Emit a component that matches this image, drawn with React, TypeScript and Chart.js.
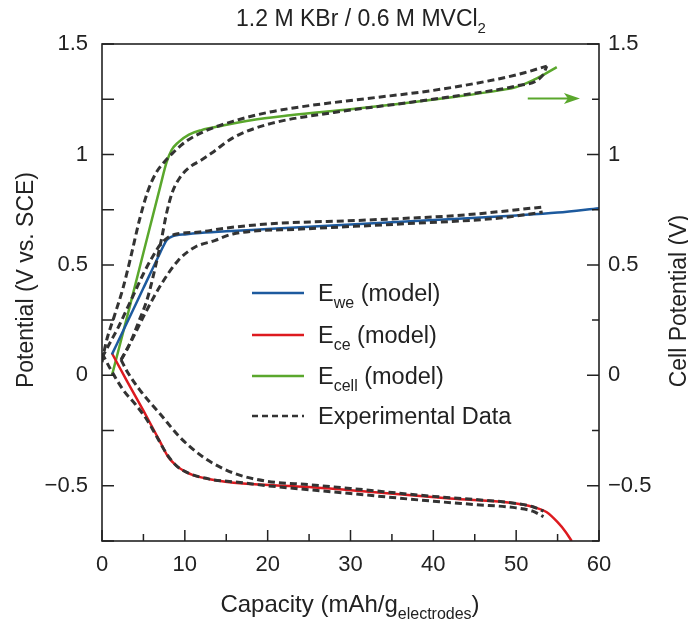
import React, { useEffect, useRef } from "react";
import { Chart, registerables } from "chart.js";

Chart.register(...registerables);

// ---------- data ----------
const xTicks = [0, 10, 20, 30, 40, 50, 60];
const yTicks = [-0.5, 0, 0.5, 1, 1.5];
const yTickLabels = ["\u22120.5", "0", "0.5", "1", "1.5"];

// model: working electrode
const weX = [1.2, 3, 5, 7, 7.8, 8.3, 9, 10, 11.8, 15, 20, 30, 40, 50, 55, 60];
const weY = [0.095, 0.237, 0.395, 0.553, 0.612, 0.626, 0.634, 0.638, 0.644, 0.652, 0.662, 0.683, 0.703, 0.724, 0.737, 0.757];

// model: counter electrode
const ceX = [1.2, 3, 5, 7, 8, 9, 10, 11, 13, 17, 25, 30, 42, 50, 52, 53.7, 55, 56, 56.7];
const ceY = [0.1, -0.025, -0.16, -0.3, -0.37, -0.41, -0.435, -0.452, -0.47, -0.49, -0.505, -0.52, -0.558, -0.58, -0.595, -0.62, -0.665, -0.71, -0.75];

// model: cell
const cellX = [1.2, 3, 5, 7, 7.8, 8.4, 9.2, 10.5, 12, 14.5, 18, 22.7, 30, 36, 42, 48, 50, 52, 53.5, 54.9];
const cellY = [0.0, 0.26, 0.555, 0.85, 0.965, 1.02, 1.055, 1.09, 1.11, 1.13, 1.155, 1.177, 1.205, 1.23, 1.258, 1.29, 1.305, 1.335, 1.365, 1.395];

// experimental: cell (two branches)
const expCellAX = [0, 0.5, 1.5, 2.5, 3.5, 4.5, 5.5, 6.5, 7.5, 8.5, 9.5, 10.5, 12.4, 15.8, 20, 23.9, 32, 40, 48, 51, 53.7];
const expCellAY = [0.06, 0.15, 0.27, 0.39, 0.54, 0.7, 0.83, 0.915, 0.965, 1.005, 1.04, 1.068, 1.105, 1.15, 1.19, 1.215, 1.253, 1.29, 1.343, 1.37, 1.4];
const expCellBX = [2.3, 3.2, 4.4, 5.5, 6.5, 7.2, 7.8, 8.5, 9.4, 10.5, 12, 13.2, 15.8, 19.9, 28, 36, 44, 50, 53.2, 53.7];
const expCellBY = [0.07, 0.13, 0.24, 0.35, 0.5, 0.62, 0.735, 0.83, 0.895, 0.94, 0.975, 1.005, 1.075, 1.135, 1.19, 1.23, 1.272, 1.31, 1.358, 1.4];

// experimental: working electrode
const expWeAX = [0, 1, 2, 3, 4, 5, 6, 7, 8, 9, 11.8, 14.6, 19.9, 32, 44, 53.2];
const expWeAY = [0.08, 0.15, 0.22, 0.3, 0.38, 0.46, 0.53, 0.59, 0.625, 0.64, 0.649, 0.665, 0.685, 0.703, 0.727, 0.762];
const expWeBX = [2.3, 3.6, 5.2, 7.2, 9.2, 11.2, 13.6, 15.8, 24, 36, 48, 53.2];
const expWeBY = [0.07, 0.16, 0.28, 0.415, 0.52, 0.58, 0.61, 0.64, 0.662, 0.685, 0.712, 0.739];

// experimental: counter electrode
const expCeAX = [0, 1, 2.6, 4, 5.4, 6.5, 7.8, 9, 10.6, 13, 16.7, 20, 30, 40, 45, 50, 52, 53.3];
const expCeAY = [0.1, 0.03, -0.068, -0.13, -0.2, -0.27, -0.355, -0.41, -0.445, -0.47, -0.485, -0.5, -0.535, -0.57, -0.585, -0.6, -0.615, -0.64];
const expCeBX = [2.3, 3, 4.6, 7, 9.4, 12.2, 14.5, 16.7, 20, 25, 30, 40, 45, 50, 52, 53.3];
const expCeBY = [0.07, 0.02, -0.068, -0.174, -0.28, -0.37, -0.42, -0.453, -0.48, -0.495, -0.512, -0.548, -0.562, -0.58, -0.595, -0.615];

// arrow pointing to right axis (cell potential)
const arrowX = [51.4, 57.7];
const arrowY = 1.253;

const BLUE = "#1d5a9e";
const RED = "#dd1a1f";
const GREEN = "#5aa72c";
const DASH = "#333333";
const INK = "#222222";
const FONT = '"Liberation Sans", Arial, Helvetica, sans-serif';

type Part = { t: string; sub?: boolean };

const zip = (xs: number[], ys: number[]) => xs.map((x, i) => ({ x, y: ys[i] }));

function richWidth(ctx: CanvasRenderingContext2D, parts: Part[], size: number, subSize: number) {
  let w = 0;
  for (const p of parts) {
    ctx.font = `${p.sub ? subSize : size}px ${FONT}`;
    w += ctx.measureText(p.t).width;
  }
  return w;
}

function drawRich(
  ctx: CanvasRenderingContext2D,
  parts: Part[],
  x: number,
  y: number,
  size: number,
  subSize: number,
  align: "left" | "center"
) {
  const w = richWidth(ctx, parts, size, subSize);
  let cx = align === "center" ? x - w / 2 : x;
  ctx.textBaseline = "alphabetic";
  ctx.textAlign = "left";
  for (const p of parts) {
    ctx.font = `${p.sub ? subSize : size}px ${FONT}`;
    ctx.fillText(p.t, cx, p.sub ? y + size * 0.3 : y);
    cx += ctx.measureText(p.t).width;
  }
}

const decorPlugin = {
  id: "decor",
  afterDatasetsDraw(chart: any) {
    const ctx: CanvasRenderingContext2D = chart.ctx;
    const { left, right, top, bottom } = chart.chartArea;
    const xs = chart.scales.x;
    const ys = chart.scales.y;
    ctx.save();

    // arrow
    const ax0 = xs.getPixelForValue(arrowX[0]);
    const ax1 = xs.getPixelForValue(arrowX[1]);
    const ay = ys.getPixelForValue(arrowY);
    ctx.strokeStyle = GREEN;
    ctx.fillStyle = GREEN;
    ctx.lineWidth = 2;
    ctx.beginPath();
    ctx.moveTo(ax0, ay);
    ctx.lineTo(ax1 - 6, ay);
    ctx.stroke();
    ctx.beginPath();
    ctx.moveTo(ax1, ay);
    ctx.lineTo(ax1 - 16, ay - 5.5);
    ctx.lineTo(ax1 - 12, ay);
    ctx.lineTo(ax1 - 16, ay + 5.5);
    ctx.closePath();
    ctx.fill();

    // frame
    ctx.strokeStyle = INK;
    ctx.lineWidth = 1.6;
    ctx.strokeRect(left, top, right - left, bottom - top);

    // ticks
    ctx.lineWidth = 1.5;
    ctx.beginPath();
    for (let v = 0; v <= 60; v += 5) {
      const px = xs.getPixelForValue(v);
      const len = v % 10 === 0 ? 11 : 7;
      ctx.moveTo(px, bottom);
      ctx.lineTo(px, bottom - len);
    }
    for (let v = -0.75; v <= 1.5001; v += 0.25) {
      const py = ys.getPixelForValue(v);
      const major = Math.abs(Math.round(v * 2) - v * 2) < 1e-6;
      ctx.moveTo(left, py);
      ctx.lineTo(left + 12, py);
      ctx.moveTo(right, py);
      ctx.lineTo(right - (major ? 12 : 7), py);
    }
    ctx.stroke();

    // texts
    ctx.fillStyle = INK;
    // title
    drawRich(ctx, [{ t: "1.2 M KBr / 0.6 M MVCl" }, { t: "2", sub: true }], 361, 26, 23, 15, "center");
    // x title
    drawRich(ctx, [{ t: "Capacity (mAh/g" }, { t: "electrodes", sub: true }, { t: ")" }], 350, 612, 24, 16, "center");
    // left y title
    ctx.save();
    ctx.translate(33, 280);
    ctx.rotate(-Math.PI / 2);
    drawRich(ctx, [{ t: "Potential (V vs. SCE)" }], 0, 0, 23, 15, "center");
    ctx.restore();
    // right y title
    ctx.save();
    ctx.translate(686, 301);
    ctx.rotate(-Math.PI / 2);
    drawRich(ctx, [{ t: "Cell Potential (V)" }], 0, 0, 23, 15, "center");
    ctx.restore();

    // legend
    const rows: { color: string; dashed: boolean; parts: Part[]; y: number }[] = [
      { color: BLUE, dashed: false, parts: [{ t: "E" }, { t: "we", sub: true }, { t: " (model)" }], y: 293 },
      { color: RED, dashed: false, parts: [{ t: "E" }, { t: "ce", sub: true }, { t: " (model)" }], y: 335 },
      { color: GREEN, dashed: false, parts: [{ t: "E" }, { t: "cell", sub: true }, { t: " (model)" }], y: 376 },
      { color: DASH, dashed: true, parts: [{ t: "Experimental Data" }], y: 416 },
    ];
    for (const r of rows) {
      ctx.strokeStyle = r.color;
      ctx.lineWidth = 2.5;
      ctx.setLineDash(r.dashed ? [6, 4] : []);
      ctx.beginPath();
      ctx.moveTo(252, r.y);
      ctx.lineTo(304, r.y);
      ctx.stroke();
      ctx.setLineDash([]);
      ctx.fillStyle = INK;
      drawRich(ctx, r.parts, 318, r.y + 8, 23.5, 16, "left");
    }
    ctx.restore();
  },
};

export default function App() {
  const ref = useRef<HTMLCanvasElement | null>(null);

  useEffect(() => {
    if (!ref.current) return;
    const solid = (data: { x: number; y: number }[], color: string) => ({
      data,
      borderColor: color,
      backgroundColor: color,
      borderWidth: 2.5,
      pointRadius: 0,
      showLine: true,
      cubicInterpolationMode: "monotone" as const,
      order: 2,
    });
    const dashed = (data: { x: number; y: number }[]) => ({
      data,
      borderColor: DASH,
      backgroundColor: DASH,
      borderWidth: 3,
      borderDash: [7, 4],
      pointRadius: 0,
      showLine: true,
      cubicInterpolationMode: "monotone" as const,
      order: 1,
    });
    const tickFont = { family: FONT, size: 22 };
    const chart = new Chart(ref.current, {
      type: "scatter",
      data: {
        datasets: [
          solid(zip(weX, weY), BLUE),
          solid(zip(ceX, ceY), RED),
          solid(zip(cellX, cellY), GREEN),
          dashed(zip(expCellAX, expCellAY)),
          dashed(zip(expCellBX, expCellBY)),
          dashed(zip(expWeAX, expWeAY)),
          dashed(zip(expWeBX, expWeBY)),
          dashed(zip(expCeAX, expCeAY)),
          dashed(zip(expCeBX, expCeBY)),
        ] as any,
      },
      options: {
        responsive: false,
        animation: false,
        devicePixelRatio: 1,
        layout: { padding: { top: 44, left: 0, right: 0, bottom: 0 } },
        plugins: { legend: { display: false }, tooltip: { enabled: false }, title: { display: false } },
        scales: {
          x: {
            type: "linear",
            position: "bottom",
            min: 0,
            max: 60,
            grid: { display: false, drawTicks: false },
            border: { display: false },
            afterBuildTicks: (s: any) => {
              s.ticks = xTicks.map((v) => ({ value: v }));
            },
            ticks: { font: tickFont, color: INK, padding: 11, maxRotation: 0, autoSkip: false },
            afterFit: (s: any) => {
              s.height = 83;
            },
          },
          y: {
            type: "linear",
            position: "left",
            min: -0.75,
            max: 1.5,
            grid: { display: false, drawTicks: false },
            border: { display: false },
            afterBuildTicks: (s: any) => {
              s.ticks = yTicks.map((v) => ({ value: v }));
            },
            ticks: {
              font: tickFont,
              color: INK,
              padding: 14,
              autoSkip: false,
              callback: (v: any) => yTickLabels[yTicks.indexOf(Number(v))] ?? "",
            },
            afterFit: (s: any) => {
              s.width = 102;
            },
          },
          y2: {
            type: "linear",
            position: "right",
            min: -0.75,
            max: 1.5,
            grid: { display: false, drawTicks: false },
            border: { display: false },
            afterBuildTicks: (s: any) => {
              s.ticks = yTicks.map((v) => ({ value: v }));
            },
            ticks: {
              font: tickFont,
              color: INK,
              padding: 9,
              autoSkip: false,
              callback: (v: any) => yTickLabels[yTicks.indexOf(Number(v))] ?? "",
            },
            afterFit: (s: any) => {
              s.width = 89;
            },
          },
        },
      } as any,
      plugins: [decorPlugin],
    });
    return () => chart.destroy();
  }, []);

  return (
    <div style={{ position: "fixed", left: 0, top: 0, width: 688, height: 624, background: "#fff" }}>
      <canvas ref={ref} width={688} height={624} style={{ width: 688, height: 624, display: "block" }} />
    </div>
  );
}
